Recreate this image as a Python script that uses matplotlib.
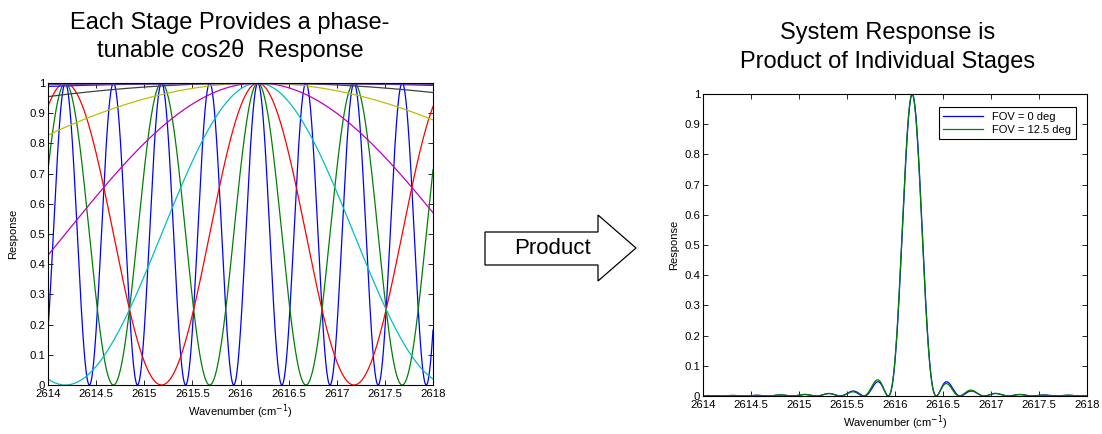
import numpy as np
import matplotlib
matplotlib.use('Agg')
from matplotlib import pyplot as plt
from matplotlib.patches import Polygon

plt.rcParams['font.family'] = ['Liberation Sans', 'DejaVu Sans']

# stage data
stage_period = [0.5, 1, 2, 4, 8, 16, 32, 64, 128]      # free spectral range, cm^-1
stage_color = [(0, 0, 1), (0, 0.5, 0), (1, 0, 0), (0, 0.75, 0.75), (0.75, 0, 0.75),
               (0.75, 0.75, 0), (0.25, 0.25, 0.25), (0.1, 0.1, 1), (0.45, 0.25, 0.65)]
peak_center = 2616.18
# small peak shifts at FOV = 12.5 deg (only the 1 cm^-1 stage moves visibly)
fov_shift = [0.0, -0.01, 0.0, 0.0, 0.0, 0.0, 0.0, 0.0, 0.0]

legend_labels = ['FOV = 0 deg', 'FOV = 12.5 deg']
fov_colors = [(0, 0, 1), (0, 0.5, 0)]

xticks = [2614, 2614.5, 2615, 2615.5, 2616, 2616.5, 2617, 2617.5, 2618]
xtick_labels = ['2614', '2614.5', '2615', '2615.5', '2616', '2616.5', '2617', '2617.5', '2618']
yticks = [0, 0.1, 0.2, 0.3, 0.4, 0.5, 0.6, 0.7, 0.8, 0.9, 1]
ytick_labels = ['0', '0.1', '0.2', '0.3', '0.4', '0.5', '0.6', '0.7', '0.8', '0.9', '1']

wn = np.linspace(2614, 2618, 4001)


def stage_resp(period, shift=0.0):
    return np.cos(np.pi * (wn - peak_center - shift) / period) ** 2


W, H = 1102, 434
fig = plt.figure(figsize=(W / 100, H / 100), dpi=100)


def style_axes(ax, ylabpad):
    ax.set_xlim(2614, 2618)
    ax.set_ylim(0, 1)
    ax.set_xticks(xticks)
    ax.set_xticklabels(xtick_labels)
    ax.set_yticks(yticks)
    ax.set_yticklabels(ytick_labels)
    ax.tick_params(direction='in', top=True, right=True, length=3.5, width=0.6,
                   labelsize=8.2)
    ax.tick_params(axis='x', pad=3)
    ax.tick_params(axis='y', pad=2)
    for s in ax.spines.values():
        s.set_linewidth(0.8)
    ax.set_ylabel('Response', fontsize=8, labelpad=ylabpad)
    ax.set_xlabel('Wavenumber (cm$^{-1}$)', fontsize=8, labelpad=2)


# left panel: individual stages
ax1 = fig.add_axes([48 / W, (H - 385) / H, 385 / W, 302 / H])
for k, p in enumerate(stage_period):
    lw = 2.0 if k == len(stage_period) - 1 else 0.9
    ax1.plot(wn, stage_resp(p), color=stage_color[k], lw=lw)
style_axes(ax1, 8)

# right panel: product of stages
ax2 = fig.add_axes([703 / W, (H - 396) / H, 384 / W, 302 / H])
prod0 = np.ones_like(wn)
prod1 = np.ones_like(wn)
for k, p in enumerate(stage_period):
    prod0 *= stage_resp(p)
    prod1 *= stage_resp(p, fov_shift[k])
ax2.plot(wn, prod0, color=fov_colors[0], lw=0.9, label=legend_labels[0])
ax2.plot(wn, prod1, color=fov_colors[1], lw=0.9, label=legend_labels[1])
style_axes(ax2, 4)
leg = ax2.legend(loc='upper right', fontsize=8, fancybox=False, framealpha=1,
                 edgecolor='black', handlelength=3.6, borderpad=0.4,
                 labelspacing=0.3, bbox_to_anchor=(0.985, 0.975))
leg.get_frame().set_linewidth(0.8)

# titles
fig.text(230 / W, 1 - 23 / H, 'Each Stage Provides a phase-', ha='center', va='center', fontsize=17)
fig.text(230 / W, 1 - 51 / H, 'tunable cos2\u03b8  Response', ha='center', va='center', fontsize=17)
fig.text(888 / W, 1 - 33 / H, 'System Response is', ha='center', va='center', fontsize=17)
fig.text(888 / W, 1 - 62 / H, 'Product of Individual Stages', ha='center', va='center', fontsize=17)

# arrow
pts = [(485, 232), (598, 232), (598, 215), (636, 248), (598, 281), (598, 265), (485, 265)]
arrow = Polygon([(x / W, 1 - y / H) for x, y in pts], closed=True, facecolor='white',
                edgecolor='black', lw=0.9, transform=fig.transFigure)
fig.patches.append(arrow)
fig.text(552 / W, 1 - 249 / H, 'Product', ha='center', va='center', fontsize=16)

fig.savefig('out.png', dpi=100)
